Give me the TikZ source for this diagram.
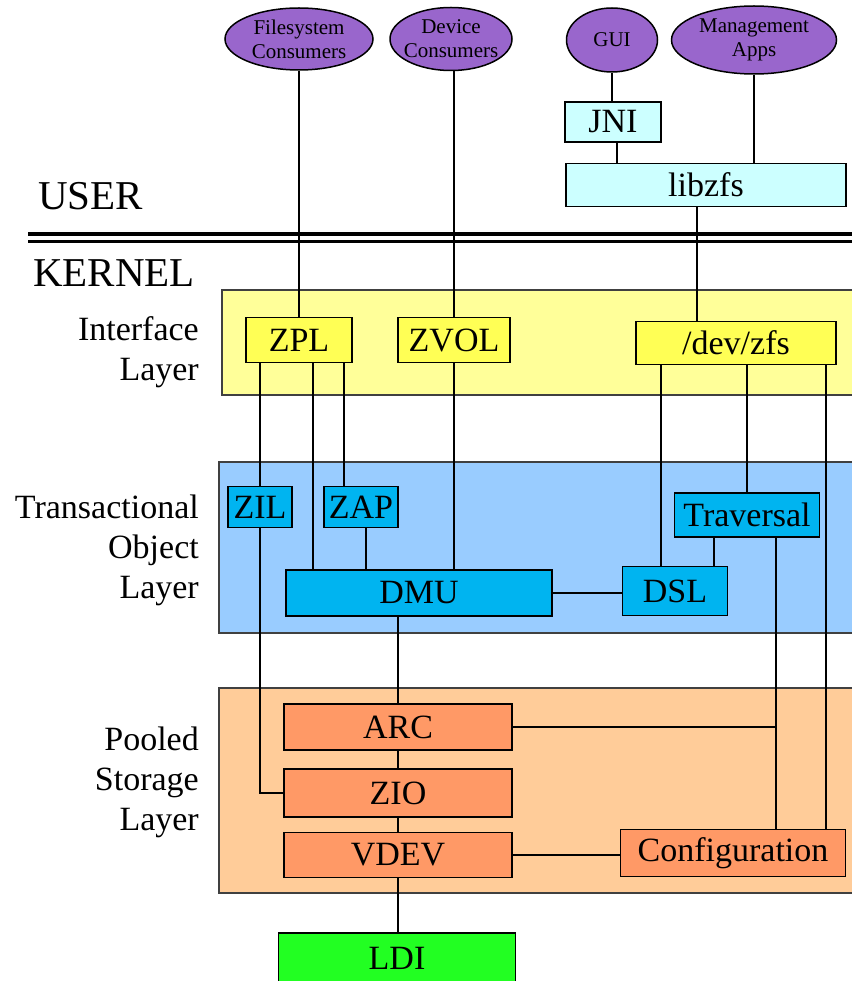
\documentclass[tikz,border=0pt]{standalone}
\usepackage{fontspec}
\setmainfont{Liberation Serif}
\newfontfamily\diagfont{Liberation Serif}
\usetikzlibrary{shapes.geometric}

\definecolor{appviolet}{HTML}{9966CC}
\definecolor{usercyan}{HTML}{CCFFFF}
\definecolor{ifpanel}{HTML}{FFFF99}
\definecolor{ifbox}{HTML}{FFFF55}
\definecolor{tolpanel}{HTML}{99CCFF}
\definecolor{tolbox}{HTML}{00B4F0}
\definecolor{splpanel}{HTML}{FFCC99}
\definecolor{splbox}{HTML}{FF9966}
\definecolor{ldigreen}{HTML}{22FF22}

\tikzset{
  blk/.style={draw, line width=1.5pt, inner sep=0pt, font=\diagfont\fontsize{34}{40}\selectfont},
  app/.style={ellipse, draw, fill=appviolet, line width=1.5pt, inner xsep=-14pt, inner ysep=-8pt, align=center, font=\diagfont\fontsize{21}{24}\selectfont},
  panel/.style={draw=black!75, line width=1.5pt},
  lbl/.style={anchor=east, align=right, inner sep=0pt, font=\diagfont\fontsize{34}{40}\selectfont},
  wire/.style={line width=1.5pt},
}

\begin{document}
\begin{tikzpicture}[x=1pt, y=-1pt]
    \useasboundingbox (0,0) rectangle (851,981);

    % user space
    \node[app, minimum width=148, minimum height=62] (fscons) at (299,39) {Filesystem\\Consumers};
    \node[app, minimum width=122, minimum height=63] (devcons) at (451,39) {Device\\Consumers};
    \node[app, minimum width=91, minimum height=64] (gui) at (612,40) {GUI};
    \node[app, minimum width=165, minimum height=68] (mgmt) at (754,40) {Management\\Apps};
    \node[blk, fill=usercyan, minimum width=96, minimum height=40] (jni) at (613,122) {JNI};
    \node[blk, fill=usercyan, minimum width=280, minimum height=43] (libzfs) at (706,185) {libzfs};

    \node[anchor=base west, inner sep=0pt, font=\diagfont\fontsize{41}{41}\selectfont] (user) at (38,210) {USER};
    \node[anchor=base west, inner sep=0pt, font=\diagfont\fontsize{41}{41}\selectfont] (kernel) at (33,287) {KERNEL};
    \draw[line width=4pt] (28,234) -- (860,234);
    \draw[line width=3pt] (28,241.5) -- (860,241.5);

    % the three layers
    \filldraw[panel, fill=ifpanel] (222,290) rectangle (860,395);
    \filldraw[panel, fill=tolpanel] (219,462) rectangle (860,633);
    \filldraw[panel, fill=splpanel] (219,688) rectangle (860,893);
    \node[lbl] (iflabel) at (199,352) {Interface\\Layer};
    \node[lbl] (tollabel) at (199,550) {Transactional\\Object\\Layer};
    \node[lbl] (spllabel) at (199,782) {Pooled\\Storage\\Layer};

    \node[blk, fill=ifbox, minimum width=106, minimum height=45] (zpl) at (299,340) {ZPL};
    \node[blk, fill=ifbox, minimum width=112, minimum height=45] (zvol) at (454,340) {ZVOL};
    \node[blk, fill=ifbox, minimum width=200, minimum height=43] (devzfs) at (736,343) {/dev/zfs};

    \node[blk, fill=tolbox, minimum width=64, minimum height=41] (zil) at (260,507) {ZIL};
    \node[blk, fill=tolbox, minimum width=74, minimum height=41] (zap) at (361,507) {ZAP};
    \node[blk, fill=tolbox, minimum width=145, minimum height=44] (trav) at (747,515) {Traversal};
    \node[blk, fill=tolbox, minimum width=266, minimum height=46] (dmu) at (419,593) {DMU};
    \node[blk, fill=tolbox, minimum width=105, minimum height=49] (dsl) at (675,591) {DSL};

    \node[blk, fill=splbox, minimum width=228, minimum height=46] (arc) at (398,727) {ARC};
    \node[blk, fill=splbox, minimum width=228, minimum height=48] (zio) at (398,793) {ZIO};
    \node[blk, fill=splbox, minimum width=228, minimum height=45] (vdev) at (398,855) {VDEV};
    \node[blk, fill=splbox, minimum width=225, minimum height=47] (config) at (733,853) {Configuration};

    \node[blk, fill=ldigreen, minimum width=237, minimum height=50] (ldi) at (397,958) {LDI};

    % where the wires leave the boxes
    \coordinate (jni-lib) at ([xshift=4]jni.south);
    \coordinate (lib-dev) at ([xshift=-9]libzfs.south);
    \coordinate (zpl-dmu) at ([xshift=14]zpl.south);
    \coordinate (zpl-zap) at ([xshift=-17]zap.north);
    \coordinate (zap-dmu) at ([xshift=5]zap.south);
    \coordinate (dev-dsl) at ([xshift=-75]devzfs.south);
    \coordinate (dev-cfg) at ([xshift=90]devzfs.south);
    \coordinate (trav-dsl) at ([xshift=-33]trav.south);
    \coordinate (trav-cfg) at ([xshift=29]trav.south);

    \draw[wire] (fscons.south) -- (fscons.south |- zpl.north);
    \draw[wire] (zvol.north |- devcons.south) -- (zvol.north);
    \draw[wire] (gui.south) -- (gui.south |- jni.north);
    \draw[wire] (jni-lib) -- (jni-lib |- libzfs.north);
    \draw[wire] (mgmt.south) -- (mgmt.south |- libzfs.north);
    \draw[wire] (lib-dev) -- (lib-dev |- devzfs.north);

    \draw[wire] (zpl.south -| zil.north) -- (zil.north);
    \draw[wire] (zpl-dmu) -- (zpl-dmu |- dmu.north);
    \draw[wire] (zpl-zap |- zpl.south) -- (zpl-zap);
    \draw[wire] (zap-dmu) -- (zap-dmu |- dmu.north);
    \draw[wire] (zvol.south) -- (zvol.south |- dmu.north);
    \draw[wire] (zil.south) |- (zio.west);
    \draw[wire] (dmu.east) -- (dmu.east -| dsl.west);
    \draw[wire] (dev-dsl) -- (dev-dsl |- dsl.north);
    \draw[wire] (trav.north |- devzfs.south) -- (trav.north);
    \draw[wire] (trav-dsl) -- (trav-dsl |- dsl.north);
    \draw[wire] (trav-cfg) -- (trav-cfg |- config.north);
    \draw[wire] (arc.east) -- (arc.east -| trav-cfg);
    \draw[wire] (dev-cfg) -- (dev-cfg |- config.north);

    \draw[wire] (dmu.south -| arc.north) -- (arc.north);
    \draw[wire] (arc.south) -- (zio.north);
    \draw[wire] (zio.south) -- (vdev.north);
    \draw[wire] (vdev.south) -- (vdev.south |- ldi.north);
    \draw[wire] (vdev.east) -- (vdev.east -| config.west);
\end{tikzpicture}
\end{document}
